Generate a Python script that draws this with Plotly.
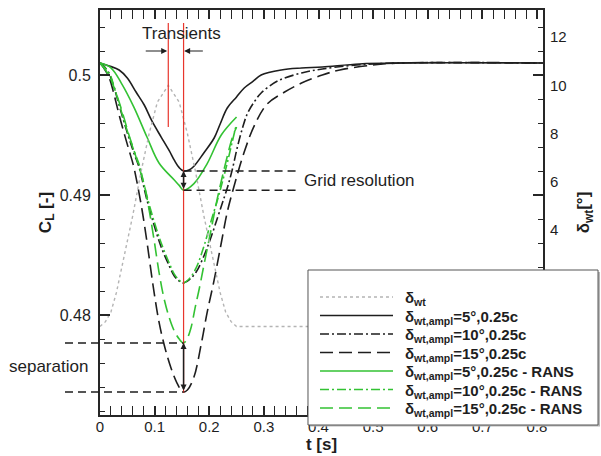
import plotly.graph_objects as go

# ---------------------------------------------------------------- data
# wind-tunnel gust flap deflection [deg] over time [s]
t_wt = [0, 0.01, 0.02, 0.03, 0.045, 0.06, 0.075, 0.09, 0.105, 0.125, 0.145,
        0.16, 0.175, 0.19, 0.205, 0.22, 0.23, 0.24, 0.25, 0.811]
d_wt = [0, 0.2, 0.6, 1.4, 3.0, 4.6, 6.4, 8.0, 9.3, 10.0, 9.3,
        8.0, 6.4, 4.6, 3.0, 1.4, 0.6, 0.2, 0, 0]

# lift coefficient, amplitude 5 deg
t_5 = [0, 0.017, 0.035, 0.050, 0.066, 0.081, 0.095, 0.112, 0.127, 0.136, 0.145,
       0.153, 0.163, 0.172, 0.190, 0.209, 0.220, 0.233, 0.250, 0.264, 0.280,
       0.295, 0.332, 0.369, 0.407, 0.475, 0.549, 0.811]
cl_5 = [0.5010, 0.50075, 0.50042, 0.49975, 0.49858, 0.4975, 0.49617, 0.49483,
        0.49367, 0.4929, 0.49228, 0.4920, 0.49208, 0.4924, 0.4935, 0.49475,
        0.49592, 0.49725, 0.49817, 0.49892, 0.49947, 0.5000, 0.50042, 0.50058,
        0.50067, 0.50092, 0.5010, 0.5010]

# lift coefficient, amplitude 10 deg
t_10 = [0, 0.007, 0.017, 0.026, 0.035, 0.044, 0.053, 0.062, 0.072, 0.079, 0.086,
        0.099, 0.112, 0.127, 0.136, 0.145, 0.152, 0.163, 0.176, 0.191, 0.204,
        0.215, 0.224, 0.233, 0.242, 0.251, 0.261, 0.270, 0.283, 0.295, 0.325,
        0.369, 0.407, 0.470, 0.549, 0.811]
cl_10 = [0.5010, 0.50075, 0.50008, 0.49892, 0.4975, 0.49608, 0.49475, 0.4935,
         0.49225, 0.49092, 0.48958, 0.4875, 0.48567, 0.48408, 0.48325, 0.48283,
         0.48267, 0.48292, 0.48358, 0.4850, 0.48658, 0.48808, 0.48933, 0.49058,
         0.49208, 0.4939, 0.4956, 0.4968, 0.4978, 0.4985, 0.4995, 0.50017,
         0.5005, 0.50083, 0.5010, 0.5010]

# lift coefficient, amplitude 15 deg
t_15 = [0, 0.007, 0.017, 0.026, 0.035, 0.044, 0.053, 0.061, 0.068, 0.077, 0.086,
        0.097, 0.108, 0.119, 0.130, 0.141, 0.152, 0.160, 0.172, 0.185, 0.196,
        0.209, 0.222, 0.233, 0.244, 0.264, 0.283, 0.306, 0.338, 0.369, 0.407,
        0.439, 0.499, 0.549, 0.811]
cl_15 = [0.5010, 0.50058, 0.49975, 0.49833, 0.49667, 0.49517, 0.49375, 0.4925,
         0.4910, 0.48875, 0.48608, 0.4825, 0.47942, 0.47725, 0.47558, 0.47433,
         0.47358, 0.47375, 0.47483, 0.4775, 0.48017, 0.48292, 0.4860, 0.48858,
         0.4905, 0.49358, 0.49583, 0.49758, 0.49858, 0.49933, 0.5000, 0.50042,
         0.50083, 0.5010, 0.5010]

# RANS results (computed up to t = 0.25 s)
t_5r = [0, 0.020, 0.039, 0.062, 0.086, 0.108, 0.136, 0.145, 0.153, 0.172,
        0.196, 0.222, 0.250]
cl_5r = [0.5010, 0.5006, 0.49933, 0.49733, 0.49483, 0.49267, 0.49125, 0.4908,
         0.4904, 0.49095, 0.4926, 0.4950, 0.4965]

t_10r = [0, 0.017, 0.026, 0.035, 0.044, 0.053, 0.062, 0.072, 0.079, 0.086,
         0.099, 0.112, 0.127, 0.136, 0.145, 0.152, 0.163, 0.176, 0.191, 0.204,
         0.215, 0.224, 0.233, 0.242, 0.250]
cl_10r = [0.5010, 0.50015, 0.4990, 0.4976, 0.4962, 0.4949, 0.4937, 0.4925,
          0.4912, 0.4899, 0.4878, 0.4860, 0.4843, 0.4834, 0.4829, 0.48267,
          0.4830, 0.48392, 0.48583, 0.48792, 0.48958, 0.49108, 0.49267,
          0.49442, 0.49592]

t_15r = [0, 0.017, 0.026, 0.035, 0.044, 0.053, 0.062, 0.072, 0.081, 0.090,
         0.099, 0.108, 0.117, 0.127, 0.136, 0.145, 0.153, 0.160, 0.167, 0.174,
         0.182, 0.191, 0.204, 0.215, 0.226, 0.235, 0.242, 0.250]
cl_15r = [0.5010, 0.49992, 0.49892, 0.49775, 0.49642, 0.495, 0.49375, 0.49225,
          0.49083, 0.48875, 0.48625, 0.48358, 0.48142, 0.47975, 0.47867, 0.478,
          0.47767, 0.47808, 0.479, 0.48058, 0.48225, 0.48433, 0.48725, 0.48975,
          0.49192, 0.49358, 0.49475, 0.49567]

# marker times for the transient window
t_gust_peak = 0.125
t_cl_min = 0.153

# right-axis labels left visible above the legend panel
d_ticks = [4, 6, 8, 10, 12]

# ---------------------------------------------------------------- style
FONT = "Liberation Sans, Arial, sans-serif"
BLACK = "#1e1e1e"
GREEN = "#33c233"
GREY = "#b4b4b4"
RED = "#e8352c"
DASHDOT = "9px,3px,2px,3px"
LONGDASH = "13px,6px"

X_RANGE = [0, 0.811]
Y_RANGE = [0.471667, 0.505417]
Y2_RANGE = [-3.67, 13.12]

series = [
    (t_wt, d_wt, GREY, "dot", 1.4, "δ<sub>wt</sub>", "y2"),
    (t_5, cl_5, BLACK, "solid", 1.6, "δ<sub>wt,ampl</sub>=5°,0.25c", "y"),
    (t_10, cl_10, BLACK, DASHDOT, 1.6, "δ<sub>wt,ampl</sub>=10°,0.25c", "y"),
    (t_15, cl_15, BLACK, LONGDASH, 1.6, "δ<sub>wt,ampl</sub>=15°,0.25c", "y"),
    (t_5r, cl_5r, GREEN, "solid", 1.6, "δ<sub>wt,ampl</sub>=5°,0.25c - RANS", "y"),
    (t_10r, cl_10r, GREEN, DASHDOT, 1.6, "δ<sub>wt,ampl</sub>=10°,0.25c - RANS", "y"),
    (t_15r, cl_15r, GREEN, LONGDASH, 1.6, "δ<sub>wt,ampl</sub>=15°,0.25c - RANS", "y"),
]

fig = go.Figure()
for tx, vy, col, dash, w, name, yax in series:
    fig.add_trace(go.Scatter(
        x=tx, y=vy, yaxis=yax, mode="lines", name=name,
        line_shape="linear" if yax == "y2" else "spline",
        line=dict(color=col, width=w, dash=dash)))


def to_paper_x(t):
    return (t - X_RANGE[0]) / (X_RANGE[1] - X_RANGE[0])


cl5_min, cl5r_min = min(cl_5), min(cl_5r)
cl15_min, cl15r_min = min(cl_15), min(cl_15r)

shapes = []
# transient window markers
shapes.append(dict(type="line", xref="x", yref="y", x0=t_gust_peak, x1=t_gust_peak,
                   y0=0.50433, y1=0.49567, line=dict(color=RED, width=1.2)))
shapes.append(dict(type="line", xref="x", yref="y", x0=t_cl_min, x1=t_cl_min,
                   y0=0.50433, y1=cl15_min - 0.00008, line=dict(color=RED, width=1.2)))
# grid resolution guide lines
for lev in (cl5_min, cl5r_min):
    shapes.append(dict(type="line", xref="x", yref="y", x0=t_cl_min, x1=0.361,
                       y0=lev, y1=lev, line=dict(color=BLACK, width=1.5, dash="8px,5px")))
# separation guide lines (reaching out past the axis)
for lev in (cl15r_min, cl15_min):
    shapes.append(dict(type="line", xref="paper", yref="y", x0=-0.079,
                       x1=to_paper_x(t_cl_min), y0=lev, y1=lev,
                       line=dict(color=BLACK, width=1.5, dash="8px,5px")))

# legend panel (frame with a light shadow) covering the lower right corner
LEG_X0, LEG_X1, LEG_Y0, LEG_Y1 = 0.4695, 1.1242, -0.0247, 0.3580
shapes.append(dict(type="rect", xref="paper", yref="paper",
                   x0=LEG_X0 + 0.0045, x1=LEG_X1 + 0.0045, y0=LEG_Y0 - 0.004,
                   y1=LEG_Y1 - 0.005, fillcolor="#b8b8b8", line=dict(width=0)))
shapes.append(dict(type="rect", xref="paper", yref="paper",
                   x0=LEG_X0, x1=LEG_X1, y0=LEG_Y0, y1=LEG_Y1,
                   fillcolor="white", line=dict(color="#555555", width=1)))

ann_font = dict(family=FONT, size=17, color=BLACK)
annotations = []

# legend rows: line sample + label
ROW0, ROW_STEP = 0.2914, 0.04568          # paper y of first row, row pitch
SAMPLE_X0, SAMPLE_X1, TEXT_X = 0.4966, 0.6614, 0.6840
for i, (_, _, col, dash, w, name, _) in enumerate(series):
    yy = ROW0 - i * ROW_STEP
    shapes.append(dict(type="line", xref="paper", yref="paper",
                       x0=SAMPLE_X0, x1=SAMPLE_X1, y0=yy, y1=yy,
                       line=dict(color=col, width=w, dash=dash)))
    annotations.append(dict(x=TEXT_X, y=yy - 0.004, xref="paper", yref="paper",
                            xanchor="left", yanchor="middle", showarrow=False,
                            text=f"<b>{name}</b>",
                            font=dict(family=FONT, size=15, color=BLACK)))

for s in shapes:
    s.setdefault("layer", "above")

annotations += [
    dict(x=0.149, y=0.5035, xref="x", yref="y", text="Transients",
         showarrow=False, font=ann_font),
    dict(x=t_gust_peak - 0.002, y=0.502, ax=0.081, ay=0.502, xref="x", yref="y",
         axref="x", ayref="y", text="", showarrow=True, arrowhead=2,
         arrowsize=1, arrowwidth=1.2, arrowcolor=BLACK),
    dict(x=t_cl_min + 0.001, y=0.502, ax=0.191, ay=0.502, xref="x", yref="y",
         axref="x", ayref="y", text="", showarrow=True, arrowhead=2,
         arrowsize=1, arrowwidth=1.2, arrowcolor=BLACK),
    dict(x=t_cl_min, y=cl5_min, ax=t_cl_min, ay=cl5r_min, xref="x", yref="y",
         axref="x", ayref="y", text="", showarrow=True, arrowhead=2,
         arrowside="end+start", arrowsize=0.8, arrowwidth=1.5, arrowcolor=BLACK),
    dict(x=t_cl_min, y=cl15r_min, ax=t_cl_min, ay=cl15_min, xref="x", yref="y",
         axref="x", ayref="y", text="", showarrow=True, arrowhead=2,
         arrowside="end+start", arrowsize=0.8, arrowwidth=1.5, arrowcolor=BLACK),
    dict(x=0.369, y=0.49125, xref="x", yref="y", text="Grid resolution",
         xanchor="left", showarrow=False, font=ann_font),
    dict(x=-0.21, y=0.47567, xref="paper", yref="y", text="separation",
         xanchor="left", showarrow=False, font=ann_font),
]

axis_common = dict(showgrid=False, zeroline=False, showline=True,
                   linecolor="#262626", linewidth=2, ticks="inside",
                   tickcolor="#262626", mirror="allticks", automargin=False)

fig.update_layout(
    width=601, height=456,
    margin=dict(l=100, r=58, t=10, b=41, autoexpand=False),
    paper_bgcolor="white", plot_bgcolor="white",
    font=dict(family=FONT, size=15, color=BLACK),
    showlegend=False,
    xaxis=dict(range=X_RANGE, dtick=0.1, tick0=0, ticklen=9, tickwidth=2,
               tickfont=dict(size=15), ticklabelstandoff=-3,
               minor=dict(ticks="inside", dtick=0.02, ticklen=5, tickwidth=1,
                          tickcolor="#262626"),
               title=dict(text="t [s]", standoff=1,
                          font=dict(size=17, weight="bold")),
               **axis_common),
    yaxis=dict(range=Y_RANGE, dtick=0.01, tick0=0.5, ticklen=10, tickwidth=2,
               tickfont=dict(size=16), ticklabelstandoff=4,
               minor=dict(ticks="inside", dtick=0.002, ticklen=5, tickwidth=1,
                          tickcolor="#262626"),
               title=dict(text="C<sub>L</sub> [-]", standoff=4,
                          font=dict(size=17, weight="bold")),
               **axis_common),
    yaxis2=dict(range=Y2_RANGE, overlaying="y", side="right",
                tickmode="array", tickvals=d_ticks,
                showgrid=False, zeroline=False, showline=False, ticks="",
                automargin=False,
                tickfont=dict(size=15), ticklabelstandoff=6,
                title=dict(text="δ<sub>wt</sub>[°]", standoff=11,
                           font=dict(size=17, weight="bold"))),
    shapes=shapes,
    annotations=annotations,
)

fig.write_html("out.html")
